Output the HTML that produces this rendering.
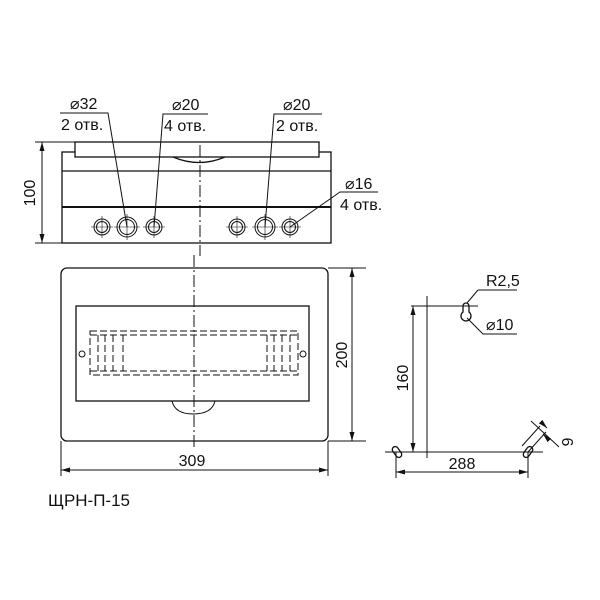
<!DOCTYPE html>
<html><head><meta charset="utf-8"><style>body{margin:0;background:#fff}svg{display:block}text{font-family:"Liberation Sans","DejaVu Sans",sans-serif;fill:#111}</style></head><body>
<svg width="600" height="600" viewBox="0 0 600 600" xmlns="http://www.w3.org/2000/svg">
<defs><marker id="a" markerWidth="10" markerHeight="6" refX="9" refY="3" orient="auto-start-reverse" markerUnits="userSpaceOnUse"><path d="M0,0.5 L9,3 L0,5.5z" fill="#111"/></marker></defs>
<g fill="none" stroke="#111" stroke-width="1.3">
<rect x="62" y="152" width="269" height="91"/>
<rect x="75" y="142" width="244" height="15" fill="#fff"/>
<line x1="62" y1="171" x2="331" y2="171"/>
<line x1="62" y1="207" x2="331" y2="207" stroke-width="2"/>
<path d="M173,157 Q199,168 225,157"/>
<g stroke-width="1">
<circle cx="102" cy="227" r="8"/><circle cx="102" cy="227" r="5.5"/>
<circle cx="127" cy="227" r="10"/><circle cx="127" cy="227" r="7.5"/>
<circle cx="154" cy="227" r="8"/><circle cx="154" cy="227" r="5.5"/>
<circle cx="237" cy="227" r="8"/><circle cx="237" cy="227" r="5.5"/>
<circle cx="265" cy="227" r="10"/><circle cx="265" cy="227" r="7.5"/>
<circle cx="290" cy="227" r="8"/><circle cx="290" cy="227" r="5.5"/>
<g stroke-width="0.6">
<path d="M91,227h22M102,216v22M114,227h26M127,214v26M143,227h22M154,216v22M226,227h22M237,216v22M252,227h26M265,214v26M279,227h22M290,216v22"/>
</g>
<line x1="200" y1="145" x2="200" y2="256" stroke-dasharray="12,3,2,3"/>
<line x1="35" y1="142" x2="75" y2="142"/><line x1="35" y1="243" x2="62" y2="243"/>
<line x1="42" y1="142" x2="42" y2="243" marker-start="url(#a)" marker-end="url(#a)"/>
<path d="M60,113 H108 L127,227"/><path d="M208,114 H163 L154,227"/>
<path d="M322,114 H274 L265,227"/><path d="M378,192 H340 L290,227"/>
</g>
<rect x="61" y="268" width="267" height="173" rx="6"/>
<rect x="76" y="306" width="233" height="95"/>
<g stroke-width="1" stroke-dasharray="7,3">
<rect x="90" y="331" width="208" height="44"/>
<line x1="90" y1="335" x2="298" y2="335"/><line x1="90" y1="371" x2="298" y2="371"/>
<line x1="98" y1="335" x2="98" y2="371"/><line x1="105" y1="335" x2="105" y2="371"/><line x1="113" y1="335" x2="113" y2="371"/><line x1="123" y1="335" x2="123" y2="371"/>
<line x1="267" y1="335" x2="267" y2="371"/><line x1="274" y1="335" x2="274" y2="371"/><line x1="282" y1="335" x2="282" y2="371"/><line x1="290" y1="335" x2="290" y2="371"/>
</g>
<circle cx="82" cy="354" r="3" stroke-width="1"/><circle cx="303" cy="354" r="3" stroke-width="1"/>
<path d="M172,401 Q175,414 193,414 Q212,414 215,401" stroke-width="1"/>
<g stroke-width="1">
<line x1="194" y1="255" x2="194" y2="447" stroke-dasharray="12,3,2,3"/>
<line x1="328" y1="268" x2="366" y2="268"/><line x1="328" y1="441" x2="366" y2="441"/>
<line x1="352" y1="268" x2="352" y2="441" marker-start="url(#a)" marker-end="url(#a)"/>
<line x1="61" y1="441" x2="61" y2="476"/><line x1="328" y1="441" x2="328" y2="476"/>
<line x1="61" y1="470" x2="328" y2="470" marker-start="url(#a)" marker-end="url(#a)"/>
<line x1="427" y1="296" x2="427" y2="458"/>
<line x1="411" y1="306" x2="478" y2="306"/>
<line x1="385" y1="452" x2="543" y2="452"/>
<line x1="413" y1="306" x2="413" y2="452" marker-start="url(#a)" marker-end="url(#a)"/>
<line x1="396" y1="452" x2="396" y2="478"/><line x1="528" y1="452" x2="528" y2="478"/>
<line x1="396" y1="472" x2="528" y2="472" marker-start="url(#a)" marker-end="url(#a)"/>
<path d="M478,290 H517"/><path d="M478,290 L467,303"/>
<path d="M517,334 H483 L467,318"/>
<line x1="531" y1="421" x2="559" y2="447"/><line x1="541" y1="422" x2="547" y2="428" marker-end="url(#a)"/><line x1="549" y1="440" x2="543" y2="434" marker-end="url(#a)"/>
<line x1="540" y1="426" x2="522" y2="446"/><line x1="546" y1="432" x2="528" y2="452"/>
</g>
<path d="M463,306 A3,3 0 0 1 469,306 L469,312 A5,5 0 1 1 463,312 Z" stroke-width="1.3"/>
<rect x="391" y="449" width="12" height="6" rx="3" transform="rotate(55 397 452)" stroke-width="1.3"/>
<rect x="522" y="449" width="12" height="6" rx="3" transform="rotate(-55 528 452)" stroke-width="1.3"/>
</g>
<g font-size="16">
<text x="70" y="109">⌀32</text><text x="61" y="130">2 отв.</text>
<text x="172" y="110">⌀20</text><text x="164" y="131">4 отв.</text>
<text x="283" y="110">⌀20</text><text x="276" y="131">2 отв.</text>
<text x="345" y="189">⌀16</text><text x="340" y="210">4 отв.</text>
<text x="30" y="193" text-anchor="middle" transform="rotate(-90 30 193)" dy="5">100</text>
<text x="342" y="355" text-anchor="middle" transform="rotate(-90 342 355)" dy="5">200</text>
<text x="192" y="466" text-anchor="middle">309</text>
<text x="403" y="378" text-anchor="middle" transform="rotate(-90 403 378)" dy="5">160</text>
<text x="462" y="469" text-anchor="middle">288</text>
<text x="486" y="286">R2,5</text>
<text x="486" y="330">⌀10</text>
<text x="567" y="442" text-anchor="middle" transform="rotate(90 567 442)" dy="5">6</text>
<text x="48" y="506" font-size="17">ЩРН-П-15</text>
</g>
</svg>
</body></html>
